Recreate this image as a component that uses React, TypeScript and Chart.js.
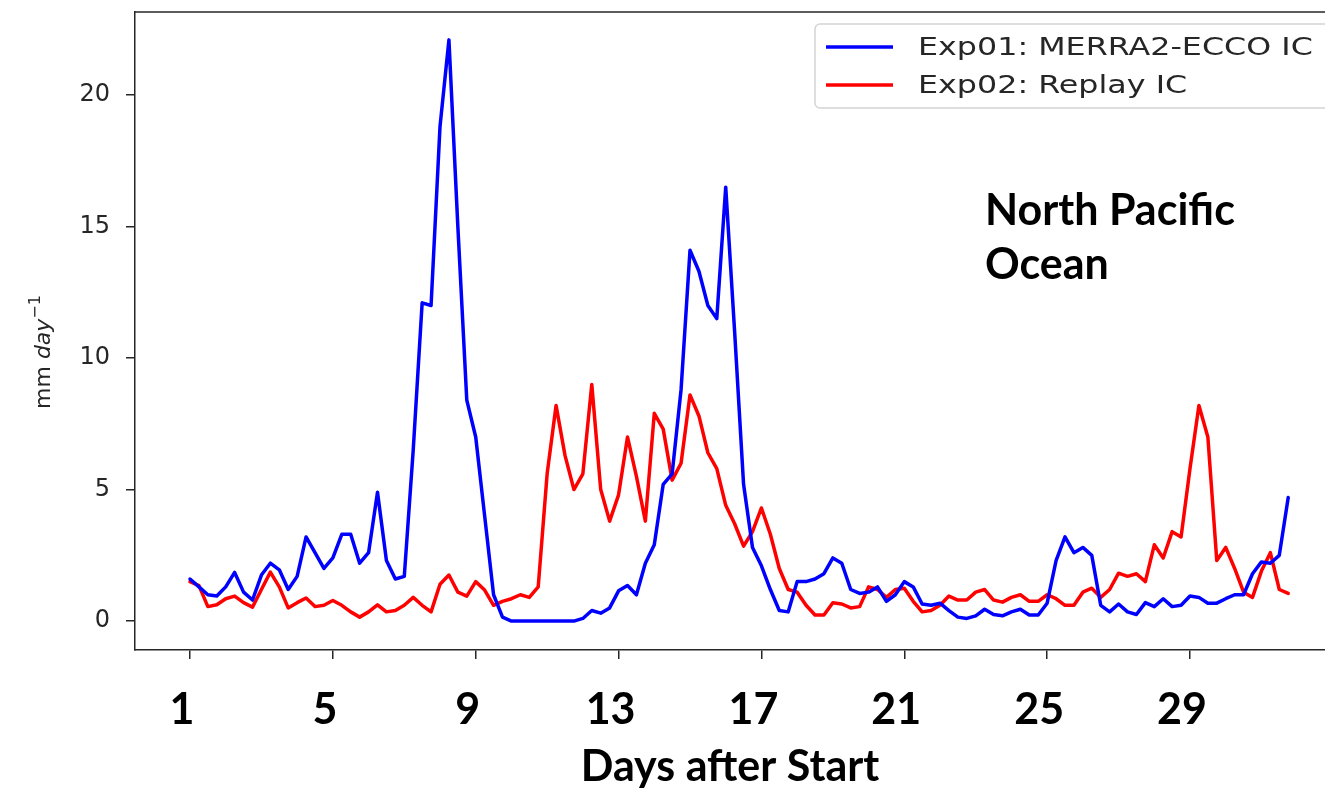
import React, { useEffect, useRef } from "react";
import { Chart, registerables } from "chart.js";

Chart.register(...registerables);

// Time axis: days after start (6-hourly samples)
const days = [
  1, 1.25, 1.5, 1.75, 2, 2.25, 2.5, 2.75, 3, 3.25, 3.5, 3.75,
  4, 4.25, 4.5, 4.75, 5, 5.25, 5.5, 5.75, 6, 6.25, 6.5, 6.75,
  7, 7.25, 7.5, 7.75, 8, 8.25, 8.5, 8.75, 9, 9.25, 9.5, 9.75,
  10, 10.25, 10.5, 10.75, 11, 11.25, 11.5, 11.75, 12, 12.25, 12.5, 12.75,
  13, 13.25, 13.5, 13.75, 14, 14.25, 14.5, 14.75, 15, 15.25, 15.5, 15.75,
  16, 16.25, 16.5, 16.75, 17, 17.25, 17.5, 17.75, 18, 18.25, 18.5, 18.75,
  19, 19.25, 19.5, 19.75, 20, 20.25, 20.5, 20.75, 21, 21.25, 21.5, 21.75,
  22, 22.25, 22.5, 22.75, 23, 23.25, 23.5, 23.75, 24, 24.25, 24.5, 24.75,
  25, 25.25, 25.5, 25.75, 26, 26.25, 26.5, 26.75, 27, 27.25, 27.5, 27.75,
  28, 28.25, 28.5, 28.75, 29, 29.25, 29.5, 29.75, 30, 30.25, 30.5, 30.75,
  31, 31.25, 31.5, 31.75,
];

// Exp01: MERRA2-ECCO IC (mm day-1)
const exp01 = [
  1.6, 1.3, 1.0, 0.95, 1.3, 1.85, 1.1, 0.8, 1.75, 2.2,
  1.95, 1.2, 1.7, 3.2, 2.6, 2.0, 2.4, 3.3, 3.3, 2.2,
  2.6, 4.9, 2.3, 1.6, 1.7, 6.5, 12.1, 12.0, 18.8, 22.1,
  15.0, 8.4, 7.0, 4.0, 1.0, 0.15, 0.0, 0.0, 0.0, 0.0,
  0.0, 0.0, 0.0, 0.0, 0.1, 0.4, 0.3, 0.5, 1.15, 1.35,
  1.0, 2.2, 2.9, 5.2, 5.6, 8.8, 14.1, 13.3, 12.0, 11.5,
  16.5, 11.0, 5.2, 2.8, 2.1, 1.2, 0.4, 0.35, 1.5, 1.5,
  1.6, 1.8, 2.4, 2.2, 1.2, 1.05, 1.1, 1.3, 0.75, 1.0,
  1.5, 1.3, 0.65, 0.6, 0.68, 0.4, 0.15, 0.1, 0.2, 0.45,
  0.25, 0.2, 0.35, 0.45, 0.23, 0.23, 0.68, 2.3, 3.2, 2.6,
  2.8, 2.5, 0.6, 0.35, 0.65, 0.35, 0.25, 0.7, 0.55, 0.85,
  0.55, 0.6, 0.95, 0.9, 0.68, 0.68, 0.85, 1.0, 1.0, 1.8,
  2.25, 2.2, 2.5, 4.7,
];

// Exp02: Replay IC (mm day-1)
const exp02 = [
  1.5, 1.35, 0.55, 0.62, 0.85, 0.95, 0.7, 0.53, 1.2, 1.86,
  1.3, 0.5, 0.7, 0.88, 0.55, 0.6, 0.78, 0.6, 0.35, 0.15,
  0.35, 0.62, 0.35, 0.4, 0.6, 0.9, 0.6, 0.35, 1.4, 1.75,
  1.1, 0.95, 1.5, 1.18, 0.6, 0.75, 0.85, 1.0, 0.9, 1.3,
  5.6, 8.2, 6.3, 5.0, 5.6, 9.0, 5.0, 3.8, 4.8, 7.0,
  5.5, 3.8, 7.9, 7.3, 5.36, 6.0, 8.6, 7.8, 6.4, 5.8,
  4.4, 3.7, 2.85, 3.4, 4.3, 3.3, 2.0, 1.2, 1.1, 0.6,
  0.23, 0.23, 0.7, 0.65, 0.5, 0.55, 1.3, 1.2, 0.9, 1.2,
  1.25, 0.75, 0.35, 0.4, 0.6, 0.95, 0.8, 0.8, 1.1, 1.2,
  0.8, 0.72, 0.9, 1.0, 0.75, 0.75, 1.0, 0.85, 0.6, 0.6,
  1.1, 1.25, 0.9, 1.2, 1.82, 1.7, 1.8, 1.5, 2.9, 2.4,
  3.4, 3.2, 5.8, 8.2, 7.0, 2.3, 2.8, 2.0, 1.1, 0.9,
  1.9, 2.6, 1.2, 1.05,
];

const seriesLabels = ["Exp01: MERRA2-ECCO IC", "Exp02: Replay IC"];
const seriesColors = ["#0000ff", "#ff0000"];

const xTickDays = [1, 5, 9, 13, 17, 21, 25, 29];
const yTickValues = [0, 5, 10, 15, 20];
const xLimits = [-0.54, 32.78];
const yLimits = [-1.1, 23.16];

const xTitle = "Days after Start";
const regionLines = ["North Pacific", "Ocean"];

const overlayPlugin = {
  id: "overlay",
  afterDraw(chart: any) {
    const { ctx, chartArea } = chart;
    ctx.save();

    // top spine
    ctx.strokeStyle = "#262626";
    ctx.lineWidth = 1.5;
    ctx.beginPath();
    ctx.moveTo(chartArea.left, chartArea.top);
    ctx.lineTo(chartArea.right, chartArea.top);
    ctx.stroke();

    // region annotation
    ctx.fillStyle = "#000";
    ctx.font = "bold 43px Lato";
    ctx.textAlign = "left";
    ctx.textBaseline = "middle";
    const ax = chartArea.left + 850;
    ctx.fillText(regionLines[0], ax, 211);
    ctx.fillText(regionLines[1], ax, 265);

    // legend
    const lx = 815, ly = 24, lw = 530, lh = 84;
    ctx.beginPath();
    (ctx as any).roundRect(lx, ly, lw, lh, 5);
    ctx.fillStyle = "rgba(255,255,255,0.85)";
    ctx.fill();
    ctx.strokeStyle = "#d4d4d4";
    ctx.lineWidth = 1.5;
    ctx.stroke();
    const rows = [47, 85];
    chart.data.datasets.forEach((ds: any, i: number) => {
      const ry = rows[i];
      ctx.strokeStyle = ds.borderColor;
      ctx.lineWidth = 3.5;
      ctx.beginPath();
      ctx.moveTo(826, ry);
      ctx.lineTo(893, ry);
      ctx.stroke();
      ctx.save();
      ctx.translate(918, ry);
      ctx.scale(1.27, 1);
      ctx.fillStyle = "#262626";
      ctx.font = '25px "DejaVu Sans"';
      ctx.textAlign = "left";
      ctx.textBaseline = "middle";
      ctx.fillText(ds.label, 0, 1);
      ctx.restore();
    });

    // y axis label: mm day^-1
    ctx.save();
    ctx.translate(50, 352);
    ctx.rotate(-Math.PI / 2);
    ctx.fillStyle = "#262626";
    ctx.textBaseline = "alphabetic";
    ctx.textAlign = "left";
    const f1 = '22px "DejaVu Sans"';
    const f2 = 'italic 22px "DejaVu Sans"';
    const f3 = '16px "DejaVu Sans"';
    ctx.font = f1;
    const w1 = ctx.measureText("mm ").width;
    ctx.font = f2;
    const w2 = ctx.measureText("day").width;
    ctx.font = f3;
    const w3 = ctx.measureText("\u22121").width;
    let x = -(w1 + w2 + w3) / 2;
    ctx.font = f1;
    ctx.fillText("mm ", x, 0);
    x += w1;
    ctx.font = f2;
    ctx.fillText("day", x, 0);
    x += w2;
    ctx.font = f3;
    ctx.fillText("\u22121", x, -10);
    ctx.restore();

    ctx.restore();
  },
};

export default function App() {
  const canvasRef = useRef<HTMLCanvasElement | null>(null);

  useEffect(() => {
    if (!canvasRef.current) return;
    const chart = new Chart(canvasRef.current, {
      type: "line",
      data: {
        datasets: [
          {
            label: seriesLabels[0],
            data: days.map((d, i) => ({ x: d, y: exp01[i] })),
            borderColor: seriesColors[0],
            backgroundColor: seriesColors[0],
          },
          {
            label: seriesLabels[1],
            data: days.map((d, i) => ({ x: d, y: exp02[i] })),
            borderColor: seriesColors[1],
            backgroundColor: seriesColors[1],
          },
        ],
      },
      options: {
        responsive: false,
        animation: false,
        layout: { padding: { top: 12, left: 0, right: 0, bottom: 0 }, autoPadding: false },
        plugins: { legend: { display: false }, tooltip: { enabled: false } },
        elements: {
          point: { radius: 0 },
          line: { borderWidth: 3.5, tension: 0, borderJoinStyle: "round", borderCapStyle: "round" },
        },
        scales: {
          x: {
            type: "linear",
            min: xLimits[0],
            max: xLimits[1],
            afterFit: (s: any) => {
              s.height = 139;
              s.paddingLeft = 0;
              s.paddingRight = 0;
            },
            afterBuildTicks: (s: any) => {
              s.ticks = xTickDays.map((v) => ({ value: v }));
            },
            grid: {
              drawOnChartArea: false,
              drawTicks: true,
              tickLength: 9,
              color: "#262626",
              lineWidth: 1.5,
            },
            border: { display: true, color: "#262626", width: 1.5 },
            ticks: {
              font: { family: "Lato", weight: "bold", size: 43, lineHeight: 1 },
              color: "#000",
              padding: 30,
              labelOffset: -8,
              maxRotation: 0,
              autoSkip: false,
              callback: (v: any) => String(v),
            },
            title: {
              display: true,
              text: xTitle,
              color: "#000",
              font: { family: "Lato", weight: "bold", size: 43, lineHeight: 1 },
              padding: { top: 0, bottom: 0 },
            },
          },
          y: {
            type: "linear",
            min: yLimits[0],
            max: yLimits[1],
            afterFit: (s: any) => {
              s.width = 135;
              s.paddingTop = 0;
              s.paddingBottom = 0;
            },
            afterBuildTicks: (s: any) => {
              s.ticks = yTickValues.map((v) => ({ value: v }));
            },
            grid: {
              drawOnChartArea: false,
              drawTicks: true,
              tickLength: 9,
              color: "#262626",
              lineWidth: 1.5,
            },
            border: { display: true, color: "#262626", width: 1.5 },
            ticks: {
              font: { family: "DejaVu Sans", size: 24, lineHeight: 1 },
              color: "#262626",
              padding: 16,
              callback: (v: any) => String(v),
            },
            title: { display: false },
          },
        },
      },
      plugins: [overlayPlugin],
    } as any);
    return () => chart.destroy();
  }, []);

  return (
    <div style={{ position: "absolute", left: 0, top: 0, width: 1325, height: 789, background: "#fff" }}>
      <canvas ref={canvasRef} width={1325} height={789} style={{ display: "block" }} />
    </div>
  );
}
